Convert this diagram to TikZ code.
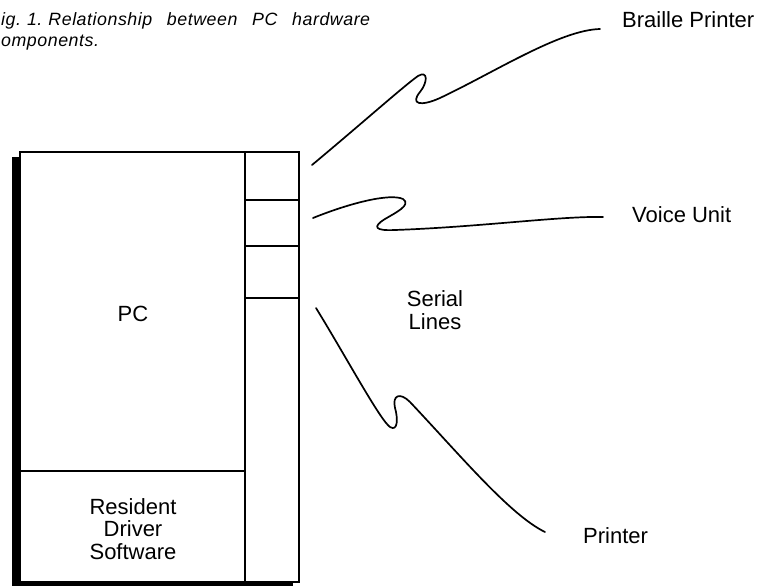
\documentclass[tikz,border=0pt]{standalone}
\usepackage{fontspec}
\setmainfont{Liberation Sans}
\newfontfamily\capfont[LetterSpace=3]{Liberation Sans}
\begin{document}
\begin{tikzpicture}[x=1pt,y=-1pt,
  lbl/.style={font=\fontsize{22}{22.5}\selectfont, inner sep=0pt, anchor=base},
  captxt/.style={font=\capfont\itshape\fontsize{17.8}{21}\selectfont, inner sep=0pt, anchor=base west},
  wire/.style={line width=1.7pt, line cap=round, line join=round},
  frame/.style={line width=1.9pt},
  divider/.style={line width=1.6pt}]
\useasboundingbox (0,0) rectangle (763,588);
% caption
\node[captxt] (cap1) at (1,26) {\makebox[369pt][s]{ig.\hspace{6pt}1.\hspace{6pt}Relationship between PC hardware}};
\node[captxt] (cap2) at (1,47) {omponents.};
% PC box with shadow
\fill (12,157) rectangle (293,586);
\filldraw[fill=white, frame] (20,152) rectangle (299,582);
\draw[frame] (245,152) -- (245,582);
\draw[divider] (20,471) -- (245,471);
\draw[divider] (245,200) -- (299,200);
\draw[divider] (245,246) -- (299,246);
\draw[divider] (245,298) -- (299,298);
% labels
\node[lbl] (pc) at (133,321) {PC};
\node[lbl, align=center] (rds) at (133,559) {Resident\\Driver\\Software};
\node[lbl, anchor=base west] (braille) at (622,28) {Braille Printer};
\node[lbl, anchor=base west] (voice) at (632,223) {Voice Unit};
\node[lbl, align=center] (serial) at (435,329) {Serial\\Lines};
\node[lbl, anchor=base west] (printer) at (583,543) {Printer};
% serial line ends
\coordinate (b0) at (312,165);
\coordinate (b1) at (600,29);
\coordinate (v0) at (313,218);
\coordinate (v1) at (603,217);
\coordinate (p0) at (316,308);
\coordinate (p1) at (545,532);
% serial lines
\draw[wire] (b0) .. controls (360,125) and (405,85) .. (418,76)
  .. controls (428,70) and (428,82) .. (420,92)
  .. controls (410,104) and (420,107) .. (440,98)
  .. controls (495,72) and (560,30) .. (b1);
\draw[wire] (v0) .. controls (350,203) and (390,193) .. (403,199)
  .. controls (412,205) and (395,213) .. (385,219)
  .. controls (372,227) and (375,231) .. (395,230)
  .. controls (480,227) and (560,216) .. (v1);
\draw[wire] (p0) .. controls (345,355) and (380,420) .. (390,427)
  .. controls (398,432) and (398,418) .. (395,408)
  .. controls (392,395) and (400,392) .. (410,402)
  .. controls (460,455) and (510,515) .. (p1);
\end{tikzpicture}
\end{document}
